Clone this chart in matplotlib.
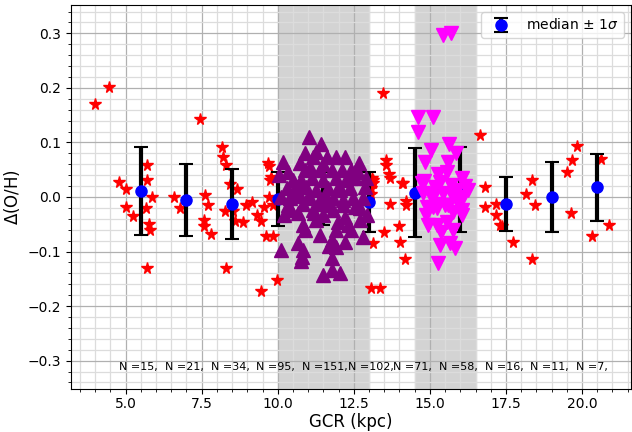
import matplotlib
matplotlib.use("Agg")
import matplotlib.pyplot as plt
from matplotlib.ticker import MultipleLocator

# red stars (whole sample outside the shaded bins)
star_x = [4.01, 4.44, 4.80, 5.00, 5.00, 5.23, 5.69, 5.72, 5.86, 5.66, 5.76, 5.79, 5.72,
          6.59, 6.78, 7.43, 7.62, 7.72, 7.59, 7.59, 7.81, 8.18, 8.20, 8.29, 8.42, 8.65,
          8.29, 8.27, 8.52, 8.61, 8.86, 8.97, 9.17, 9.32, 9.44, 9.46, 9.60, 9.85, 9.71,
          9.54, 9.85, 9.98, 9.68, 9.71, 9.79, 9.76,
          13.45, 13.56, 13.56, 13.66, 13.68, 14.10, 13.12, 13.14, 13.08, 13.68, 14.20,
          14.23, 13.50, 13.99, 14.01, 14.18, 13.14, 13.08, 13.36, 14.11, 13.05, 13.10,
          16.64, 16.81, 16.81, 17.16, 17.16, 17.30, 17.36, 17.72, 18.16, 18.37, 18.45,
          18.37, 19.50, 19.68, 19.85, 19.64, 20.63, 20.34, 20.87]
star_y = [0.170, 0.201, 0.027, 0.015, -0.018, -0.035, 0.059, 0.031, 0.000, -0.020, -0.050,
          -0.060, -0.130, 0.000, -0.020, 0.143, 0.004, -0.015, -0.043, -0.053, -0.068,
          0.092, 0.073, 0.059, 0.023, 0.014, -0.131, -0.025, -0.025, -0.044, -0.045,
          -0.015, -0.009, -0.033, -0.044, -0.173, -0.071, -0.071, 0.000, -0.019, -0.015,
          -0.152, 0.062, 0.057, 0.037, 0.031,
          0.190, 0.068, 0.059, 0.042, 0.034, 0.026, 0.031, 0.025, 0.016, -0.013, -0.007,
          -0.015, -0.065, -0.054, -0.083, -0.114, -0.085, -0.167, -0.167, 0.025, 0.005,
          0.035,
          0.114, 0.019, -0.018, -0.012, -0.033, -0.051, -0.054, -0.083, 0.005, 0.032,
          -0.015, -0.114, 0.046, 0.068, 0.093, -0.030, 0.070, -0.071, -0.051]

# purple upward triangles (10-13 kpc bin)
up_x = [11.03, 11.41, 11.27, 11.16, 10.17, 10.72, 11.62, 11.93, 12.20, 12.67, 10.34, 10.04,
        10.89, 11.05, 11.38, 11.77, 12.10, 12.42, 12.64, 10.50, 10.78, 11.11, 11.49, 11.93,
        12.26, 12.53, 12.86, 10.29, 10.62, 10.94, 11.27, 11.65, 12.04, 12.37, 10.39, 10.72,
        11.05, 11.38, 11.82, 12.15, 12.48, 12.81, 10.20, 10.45, 10.67, 10.83, 11.16, 11.27,
        11.49, 11.82, 11.99, 12.20, 12.31, 12.70, 12.92, 11.38, 10.67, 10.83, 10.12, 11.77,
        11.93, 12.20, 12.81, 10.78, 11.77, 11.77, 12.04, 11.49, 10.34, 10.83, 11.33, 11.65,
        12.15, 12.53, 10.80, 11.70, 11.00, 11.60, 12.00, 10.50, 11.20, 11.90, 12.40, 10.90,
        11.50, 10.90, 12.40, 12.90, 12.70, 10.10]
up_y = [0.110, 0.098, 0.083, 0.074, 0.065, 0.063, 0.073, 0.074, 0.073, 0.062, 0.046, 0.040,
        0.049, 0.055, 0.049, 0.049, 0.049, 0.049, 0.046, 0.031, 0.031, 0.034, 0.031, 0.034,
        0.031, 0.034, 0.019, 0.016, 0.019, 0.019, 0.013, 0.016, 0.013, 0.016, -0.002, 0.001,
        -0.002, -0.005, -0.002, -0.005, -0.002, -0.002, -0.033, -0.024, -0.030, -0.051,
        -0.024, -0.042, -0.033, -0.024, -0.045, -0.036, -0.051, -0.042, -0.033, -0.070,
        -0.085, -0.097, -0.097, -0.079, -0.091, -0.082, -0.073, -0.118, -0.112, -0.134,
        -0.140, -0.143, -0.015, -0.012, -0.012, -0.015, -0.015, -0.018, -0.110, -0.090,
        0.000, 0.000, 0.020, 0.010, -0.030, -0.060, -0.060, -0.060, 0.060, 0.080, 0.035,
        0.035, -0.020, 0.000]

# magenta downward triangles (14.5-16.5 kpc bin)
down_x = [15.44, 15.69, 14.62, 15.11, 14.60, 15.05, 15.64, 15.86, 14.84, 15.60, 16.04, 15.27,
          15.55, 14.73, 15.16, 15.33, 15.71, 15.88, 16.26, 14.76, 15.11, 15.44, 15.77, 16.10,
          15.27, 15.60, 15.93, 14.91, 16.04, 14.87, 15.22, 15.49, 15.76, 16.04, 14.94, 15.22,
          15.55, 15.76, 15.38, 15.33, 15.66, 15.82, 15.27, 15.11, 14.80, 16.15, 15.00, 15.90]
down_y = [0.297, 0.300, 0.147, 0.147, 0.120, 0.087, 0.097, 0.081, 0.065, 0.065, 0.034, 0.043,
          0.046, 0.025, 0.019, 0.028, 0.022, 0.013, 0.013, 0.007, 0.000, 0.007, 0.000, 0.000,
          -0.012, -0.015, -0.009, -0.018, -0.024, -0.033, -0.021, -0.015, -0.027, -0.033,
          -0.051, -0.051, -0.045, -0.060, -0.064, -0.088, -0.085, -0.094, -0.121, -0.019,
          0.030, 0.020, 0.005, -0.005]

# binned medians with lower / upper 1 sigma
med_x = [5.5, 7.0, 8.5, 10.0, 11.5, 13.0, 14.5, 16.0, 17.5, 19.0, 20.5]
med_y = [0.011, -0.006, -0.013, -0.003, -0.005, -0.009, 0.008, 0.014, -0.013, 0.000, 0.018]
err_lo = [0.080, 0.066, 0.064, 0.051, 0.047, 0.055, 0.081, 0.078, 0.049, 0.065, 0.062]
err_hi = [0.081, 0.066, 0.065, 0.048, 0.050, 0.055, 0.082, 0.078, 0.050, 0.065, 0.061]
n_counts = [15, 21, 34, 95, 151, 102, 71, 58, 16, 11, 7]

fig = plt.figure(figsize=(6.32, 4.32), dpi=100)
ax = fig.add_axes([0.112, 0.0995, 0.886, 0.889])

ax.axvspan(10.0, 13.0, color='lightgray', zorder=0.5)
ax.axvspan(14.5, 16.5, color='lightgray', zorder=0.5)

ax.plot(star_x, star_y, ls='none', marker='*', ms=8.5, color='red', zorder=2)
ax.errorbar(med_x, med_y, yerr=[err_lo, err_hi], fmt='o', color='blue', ms=8,
            ecolor='black', elinewidth=3, capsize=5, capthick=1.5,
            label=r'median $\pm$ 1$\sigma$', zorder=3)
ax.plot(up_x, up_y, ls='none', marker='^', ms=9.5, color='purple', zorder=4)
ax.plot(down_x, down_y, ls='none', marker='v', ms=9.5, color='magenta', zorder=4)

for xc, n in zip(med_x, n_counts):
    ax.text(xc - 0.7, -0.311, 'N =%d,' % n, fontsize=8, va='center', ha='left', zorder=5)

ax.set_xlim(3.2, 21.6)
ax.set_ylim(-0.352, 0.352)
ax.xaxis.set_major_locator(MultipleLocator(2.5))
ax.xaxis.set_minor_locator(MultipleLocator(0.5))
ax.yaxis.set_major_locator(MultipleLocator(0.1))
ax.yaxis.set_minor_locator(MultipleLocator(0.02))
ax.tick_params(axis='x', which='major', pad=2.5)
ax.grid(which='major', color='#b0b0b0', lw=0.9, zorder=1)
ax.grid(which='minor', color='#dcdcdc', lw=0.9, zorder=1)
ax.set_axisbelow(True)

ax.set_xlabel('GCR (kpc)', fontsize=12, labelpad=1)
ax.set_ylabel(r'$\Delta$(O/H)', fontsize=12)
ax.legend(loc='upper right', fontsize=10)

fig.savefig('out.png', dpi=100)
